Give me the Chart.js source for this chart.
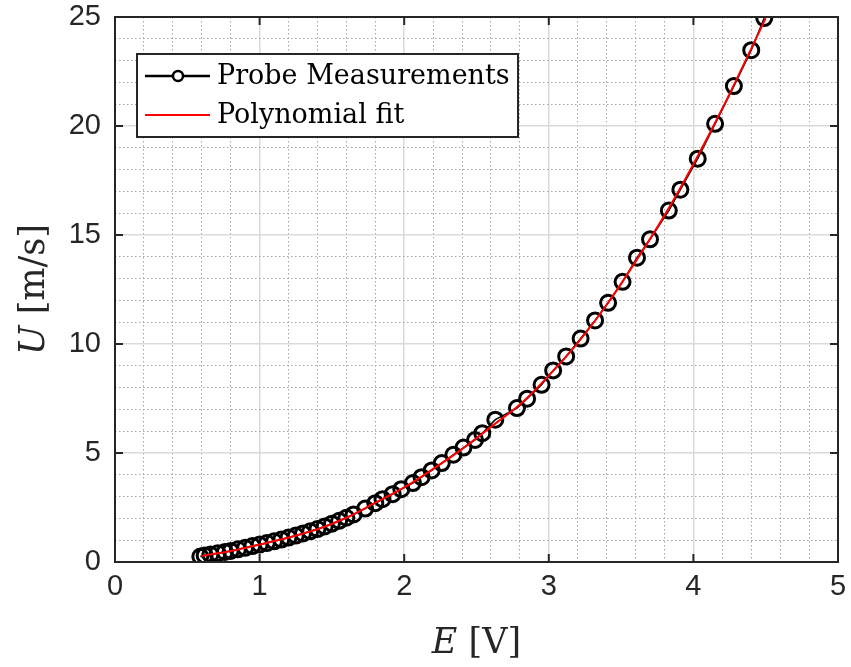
<!DOCTYPE html>
<html lang="en">
<head>
<meta charset="UTF-8">
<title>Probe calibration</title>
<script src="https://cdn.jsdelivr.net/npm/chart.js"></script>
<style>
    html, body { margin: 0; padding: 0; background: #fff; }
</style>
</head>
<body>
<canvas id="calib" width="851" height="667"></canvas>
<script>
// probe measurements (E in volts, U in m/s)
const probeE = [0.59, 0.62, 0.66, 0.71, 0.76, 0.80, 0.85, 0.90, 0.95, 1.00, 1.05, 1.10, 1.15, 1.20, 1.25,
    1.30, 1.35, 1.40, 1.45, 1.50, 1.55, 1.60, 1.65, 1.73, 1.80, 1.85, 1.92, 1.98, 2.06, 2.12, 2.19, 2.26,
    2.34, 2.41, 2.49, 2.54, 2.63, 2.78, 2.85, 2.95, 3.03, 3.12, 3.22, 3.32, 3.41, 3.51, 3.61, 3.70, 3.83,
    3.91, 4.03, 4.15, 4.28, 4.40, 4.49];
const probeU = [0.25, 0.30, 0.34, 0.40, 0.46, 0.51, 0.58, 0.65, 0.73, 0.80, 0.87, 0.95, 1.03, 1.12, 1.21,
    1.31, 1.41, 1.51, 1.63, 1.76, 1.89, 2.03, 2.18, 2.45, 2.70, 2.88, 3.11, 3.34, 3.62, 3.89, 4.20, 4.54,
    4.92, 5.25, 5.60, 5.91, 6.53, 7.06, 7.49, 8.13, 8.79, 9.43, 10.25, 11.08, 11.89, 12.85, 13.96, 14.80,
    16.12, 17.08, 18.50, 20.10, 21.83, 23.48, 24.95];

// polynomial fit
const fitE = [0.6, 0.8, 1.0, 1.2, 1.4, 1.6, 1.8, 2.0, 2.2, 2.4, 2.6, 2.8, 3.0, 3.2, 3.4, 3.6, 3.8, 4.0, 4.2, 4.4, 4.5];
const fitU = [0.28, 0.50, 0.80, 1.12, 1.50, 2.03, 2.72, 3.42, 4.27, 5.18, 6.20, 7.22, 8.55, 10.05, 11.80,
    13.78, 15.90, 18.25, 20.80, 23.55, 24.95];

const xLabels = [0, 1, 2, 3, 4, 5];
const yLabels = [0, 5, 10, 15, 20, 25];
const seriesNames = ['Probe Measurements', 'Polynomial fit'];

const axisColor = '#262626';
const serif = '"DejaVu Serif", "Liberation Serif", serif';

function isMajor(v, labels) {
    return labels.some(l => Math.abs(l - v) < 1e-6);
}

function gridColor(labels) {
    return ctx => (ctx.tick && isMajor(ctx.tick.value, labels)) ? '#dadada' : '#a8a8a8';
}
function gridWidth(labels) {
    return ctx => (ctx.tick && isMajor(ctx.tick.value, labels)) ? 1.5 : 1;
}
function gridDash(labels) {
    return ctx => (ctx.tick && isMajor(ctx.tick.value, labels)) ? [] : [1.5, 2.5];
}

// frame, inward ticks, axis titles and legend
const decorations = {
    id: 'decorations',
    afterDraw(chart) {
        const ctx = chart.ctx;
        const area = chart.chartArea;
        const xs = chart.scales.x;
        const ys = chart.scales.y;
        ctx.save();

        ctx.strokeStyle = axisColor;
        ctx.lineWidth = 2;
        ctx.strokeRect(area.left, area.top, area.right - area.left, area.bottom - area.top);

        const tick = 8;
        ctx.beginPath();
        xLabels.forEach(v => {
            const px = xs.getPixelForValue(v);
            ctx.moveTo(px, area.bottom); ctx.lineTo(px, area.bottom - tick);
            ctx.moveTo(px, area.top); ctx.lineTo(px, area.top + tick);
        });
        yLabels.forEach(v => {
            const py = ys.getPixelForValue(v);
            ctx.moveTo(area.left, py); ctx.lineTo(area.left + tick, py);
            ctx.moveTo(area.right, py); ctx.lineTo(area.right - tick, py);
        });
        ctx.stroke();

        // axis titles
        ctx.fillStyle = axisColor;
        ctx.textBaseline = 'alphabetic';
        ctx.textAlign = 'left';
        const titleSize = 35;
        const drawTitle = (sym, unit, cx, cy, rot) => {
            ctx.save();
            ctx.translate(cx, cy);
            ctx.rotate(rot);
            ctx.font = 'italic ' + titleSize + 'px ' + serif;
            const w1 = ctx.measureText(sym).width;
            ctx.font = titleSize + 'px ' + serif;
            const w2 = ctx.measureText(unit).width;
            const x0 = -(w1 + w2) / 2;
            ctx.font = 'italic ' + titleSize + 'px ' + serif;
            ctx.fillText(sym, x0, 0);
            ctx.font = titleSize + 'px ' + serif;
            ctx.fillText(unit, x0 + w1, 0);
            ctx.restore();
        };
        drawTitle('E', ' [V]', (area.left + area.right) / 2, 653, 0);
        drawTitle('U', ' [m/s]', 44, (area.top + area.bottom) / 2, -Math.PI / 2);

        // legend
        const lx = 137, ly = 54, lw = 381, lh = 83;
        ctx.fillStyle = '#ffffff';
        ctx.fillRect(lx, ly, lw, lh);
        ctx.strokeStyle = axisColor;
        ctx.lineWidth = 2;
        ctx.strokeRect(lx, ly, lw, lh);

        const rows = [76, 115];
        const ds = chart.data.datasets;
        // row 1: probe
        ctx.strokeStyle = ds[1].borderColor;
        ctx.lineWidth = 2.5;
        ctx.beginPath();
        ctx.moveTo(145, rows[0]); ctx.lineTo(210, rows[0]);
        ctx.stroke();
        ctx.beginPath();
        ctx.arc(178, rows[0], 5, 0, Math.PI * 2);
        ctx.fillStyle = '#fff';
        ctx.fill();
        ctx.stroke();
        // row 2: fit
        ctx.strokeStyle = ds[0].borderColor;
        ctx.lineWidth = 2;
        ctx.beginPath();
        ctx.moveTo(145, rows[1]); ctx.lineTo(210, rows[1]);
        ctx.stroke();

        ctx.fillStyle = '#000';
        ctx.font = '27px ' + serif;
        ctx.textBaseline = 'middle';
        ctx.fillText(ds[1].label, 217, rows[0] + 1);
        ctx.fillText(ds[0].label, 217, rows[1] + 1);

        ctx.restore();
    }
};

const ctx = document.getElementById('calib').getContext('2d');
new Chart(ctx, {
    type: 'scatter',
    data: {
        datasets: [
            {
                label: seriesNames[1],
                data: fitE.map((e, i) => ({ x: e, y: fitU[i] })),
                showLine: true,
                borderColor: '#ff0000',
                borderWidth: 2,
                pointRadius: 0,
                cubicInterpolationMode: 'monotone',
                order: 0
            },
            {
                label: seriesNames[0],
                data: probeE.map((e, i) => ({ x: e, y: probeU[i] })),
                showLine: true,
                borderColor: '#000000',
                borderWidth: 1.5,
                pointStyle: 'circle',
                pointRadius: 7.5,
                pointBorderWidth: 3,
                pointBackgroundColor: 'rgba(0,0,0,0)',
                pointBorderColor: '#000000',
                order: 1
            }
        ]
    },
    options: {
        responsive: false,
        animation: false,
        events: [],
        layout: { padding: { top: 17, right: 13, left: 0, bottom: 0 } },
        plugins: {
            legend: { display: false },
            tooltip: { enabled: false }
        },
        scales: {
            x: {
                type: 'linear',
                min: 0,
                max: 5,
                afterFit: s => { s.height = 105; s.paddingLeft = 0; s.paddingRight = 0; },
                ticks: {
                    stepSize: 0.2,
                    autoSkip: false,
                    maxRotation: 0,
                    padding: 8,
                    color: axisColor,
                    font: { family: '"Liberation Sans", Arial, sans-serif', size: 29 },
                    callback: v => isMajor(v, xLabels) ? String(Math.round(v)) : ''
                },
                grid: {
                    drawTicks: false,
                    color: gridColor(xLabels),
                    lineWidth: gridWidth(xLabels)
                },
                border: { display: false, dash: gridDash(xLabels) }
            },
            y: {
                type: 'linear',
                min: 0,
                max: 25,
                afterFit: s => { s.width = 115; s.paddingTop = 0; s.paddingBottom = 0; },
                ticks: {
                    stepSize: 1,
                    autoSkip: false,
                    padding: 14,
                    color: axisColor,
                    font: { family: '"Liberation Sans", Arial, sans-serif', size: 29 },
                    callback: v => isMajor(v, yLabels) ? String(Math.round(v)) : ''
                },
                grid: {
                    drawTicks: false,
                    color: gridColor(yLabels),
                    lineWidth: gridWidth(yLabels)
                },
                border: { display: false, dash: gridDash(yLabels) }
            }
        }
    },
    plugins: [decorations]
});
</script>
</body>
</html>
